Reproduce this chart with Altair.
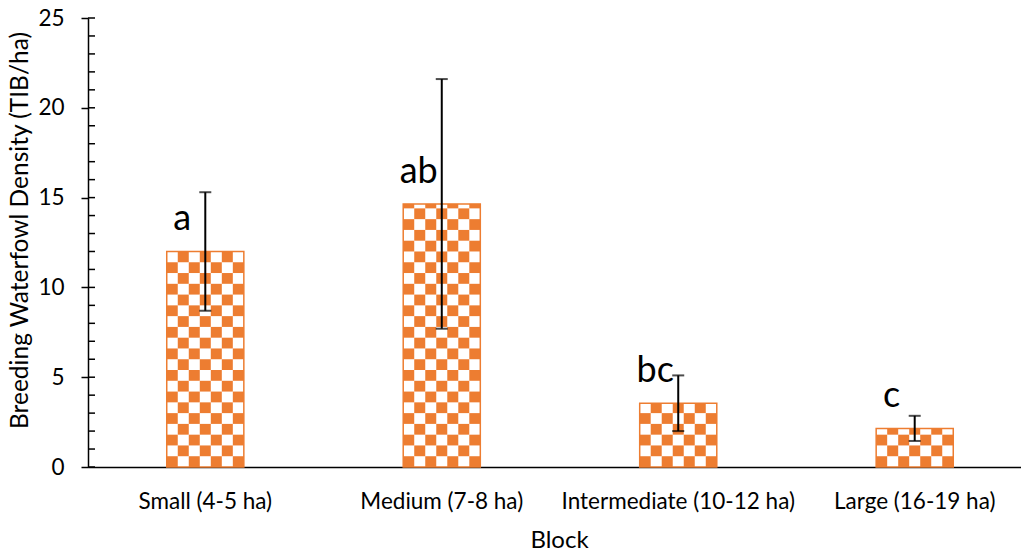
import math

import altair as alt
import pandas as pd

# Mean breeding waterfowl density per block size, with error and letter groups
blocks = ["Small (4-5 ha)", "Medium (7-8 ha)", "Intermediate (10-12 ha)", "Large (16-19 ha)"]
density = [12.0, 14.65, 3.55, 2.15]
error = [3.3, 6.95, 1.55, 0.7]
letters = ["a", "ab", "bc", "c"]

major_ticks = [0, 5, 10, 15, 20, 25]
minor_ticks = list(range(0, 26))

ORANGE = "#ED7D31"
FONT = "Lato"
CELL_H = 0.6      # checker cell height, in density units
CELL_COLS = 7     # checker columns across each bar

summary = pd.DataFrame({
    "block": blocks,
    "density": density,
    "lo": [d - e for d, e in zip(density, error)],
    "hi": [d + e for d, e in zip(density, error)],
    "letter": letters,
})

# Checkerboard fill: orange cells on a white bar, clipped at the bar top
cells = []
for b, d in zip(blocks, density):
    for r in range(math.ceil(d / CELL_H)):
        for c in range(CELL_COLS):
            if (r + c) % 2 == 0:
                cells.append({"block": b, "col": c,
                              "y0": r * CELL_H, "y1": min((r + 1) * CELL_H, d)})
cells = pd.DataFrame(cells)

x_scale = alt.Scale(domain=blocks, range=[0, 944], paddingInner=0.674, paddingOuter=0.333)
y_scale = alt.Scale(domain=[0, 25], nice=False)

x_axis = alt.Axis(
    title="Block", labelAngle=0, ticks=False, tickSize=0, grid=False,
    domainColor="black", domainWidth=1.5,
    labelFont=FONT, labelFontSize=22.5, labelColor="black", labelLimit=0,
    labelBaseline="alphabetic", labelPadding=41,
    titleFont=FONT, titleFontSize=24, titleFontWeight="normal", titleColor="black",
    titleX=471, titleY=80, titleBaseline="alphabetic",
)
y_axis = alt.Axis(
    title="Breeding Waterfowl Density (TIB/ha)", values=major_ticks, grid=False,
    tickSize=7, tickColor="black", tickWidth=1.5,
    domainColor="black", domainWidth=1.5,
    labelFont=FONT, labelFontSize=22.5, labelColor="black", labelPadding=17,
    titleFont=FONT, titleFontSize=24.5, titleFontWeight="normal", titleColor="black",
    titleX=-68, titleY=212, titleBaseline="middle", titleAlign="center",
)


def xenc():
    return alt.X("block:N", scale=x_scale, axis=x_axis, sort=blocks)


def yenc(field):
    return alt.Y(field, scale=y_scale, axis=y_axis)


base = alt.Chart(summary)

bar_fill = base.mark_bar(color="white").encode(x=xenc(), y=yenc("density:Q"))

checker = alt.Chart(cells).mark_rect(color=ORANGE).encode(
    x=xenc(),
    xOffset=alt.XOffset("col:O", scale=alt.Scale(paddingInner=0, paddingOuter=0)),
    y=yenc("y0:Q"),
    y2="y1:Q",
)

bar_outline = base.mark_bar(fillOpacity=0, stroke=ORANGE, strokeWidth=1.5).encode(
    x=xenc(), y=yenc("density:Q")
)

err_rule = base.mark_rule(color="black", strokeWidth=2).encode(
    x=xenc(), y=yenc("lo:Q"), y2="hi:Q"
)

cap_lo = base.mark_tick(color="black", orient="horizontal", size=12, thickness=2).encode(
    x=xenc(), y=yenc("lo:Q")
)
cap_hi = base.mark_tick(color="black", orient="horizontal", size=12, thickness=2).encode(
    x=xenc(), y=yenc("hi:Q")
)

letter_text = base.mark_text(
    font=FONT, fontSize=36, color="black", dx=-23, dy=-21, baseline="alphabetic"
).encode(x=xenc(), y=yenc("density:Q"), text="letter:N")

# Inward part of every unit tick on the value axis
inner_ticks = alt.Chart(pd.DataFrame({"v": minor_ticks})).mark_rule(
    color="black", strokeWidth=1.5
).encode(
    y=yenc("v:Q"),
    x=alt.value(0),
    x2=alt.value(7),
)

chart = alt.layer(
    bar_fill, checker, bar_outline, err_rule, cap_lo, cap_hi, letter_text, inner_ticks
).properties(
    width=933,
    height=449,
    padding={"left": 88, "top": 18, "right": 0, "bottom": 85},
    autosize=alt.AutoSizeParams(type="none"),
    background="white",
).configure_view(stroke=None)

chart.save("out.html", embed_options={"renderer": "svg", "actions": False})
